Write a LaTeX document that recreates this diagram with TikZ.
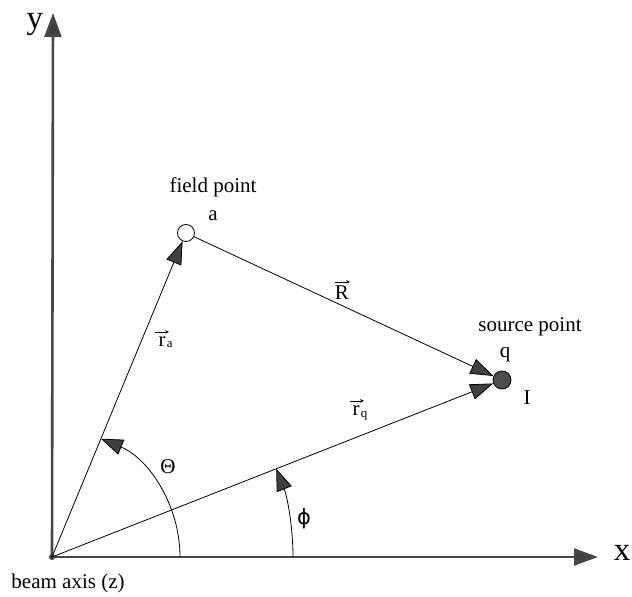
\documentclass[tikz,border=0pt]{standalone}
\usepackage{fontspec}
\setmainfont{Liberation Serif}
\newfontfamily\symfont{DejaVu Sans}
\usetikzlibrary{arrows.meta}
\begin{document}
\begin{tikzpicture}[x=1pt,y=1pt,
  lbl/.style={font=\fontsize{21}{25}\selectfont, inner sep=0pt},
  sublbl/.style={font=\fontsize{13}{15}\selectfont, inner sep=0pt},
  axlbl/.style={font=\fontsize{33}{38}\selectfont, inner sep=0pt},
  head/.style={-{Triangle[length=23pt,width=16pt,fill=black!75]}},
  vecline/.style={head, line width=0.8pt, black},
  axisline/.style={line width=2.6pt, black!72, -{Triangle[length=24pt,width=17pt,fill=black!75]}},
  thinarc/.style={line width=0.8pt, black, -{Triangle[length=22pt,width=16pt,fill=black!75]}},
  overarrow/.style={line width=0.6pt, -{Stealth[length=4pt,width=3.5pt]}}
]
\useasboundingbox (0,0) rectangle (632,597);
\coordinate (O) at (52,40);
\coordinate (ytip) at (53,584);
\coordinate (xtip) at (598,40);
\node[circle, draw, line width=0.8pt, fill=white, minimum size=17pt, inner sep=0pt] (a) at (186,364) {};
\node[circle, draw, line width=0.8pt, fill=black!70, minimum size=18pt, inner sep=0pt] (q) at (502,217) {};

% axes
\draw[axisline] (O) -- (ytip);
\draw[axisline] (O) -- (xtip);
\fill[black!75] (O) circle (3pt);

% vectors
\draw[vecline] (O) -- (a);
\draw[vecline] (a) -- (q);
\draw[vecline] (O) -- (q);

% angle arcs
\draw[thinarc] (180,40) arc[start angle=0, end angle=67.5, radius=128];
\draw[thinarc] (293,40) arc[start angle=0, end angle=21.5, radius=241];

% labels
\node[axlbl] (ylab) at (35,573) {y};
\node[axlbl] (xlab) at (622,44) {x};
\node[lbl] (fp) at (213,410) {field point};
\node[lbl] (alab) at (213,381) {a};
\node[lbl] (sp) at (530,270) {source point};
\node[lbl] (qlab) at (505,242) {q};
\node[lbl] (Ilab) at (527,199) {I};
\node[lbl] (thlab) at (168,130) {Θ};
\node[lbl] (philab) at (304,78) {\symfont ϕ};
\node[lbl] (beam) at (68,14) {beam axis (z)};

% vector labels
\node[lbl] (Rlab) at (342,304) {R};
\draw[overarrow] ([xshift=-7pt,yshift=4pt]Rlab.north) -- ([xshift=8pt,yshift=4pt]Rlab.north);
\node[lbl] (ralab) at (162,255) {r};
\node[sublbl, anchor=west] (rasub) at ([xshift=1pt,yshift=-3pt]ralab.east) {a};
\draw[overarrow] ([xshift=-7pt,yshift=5pt]ralab.north) -- ([xshift=7pt,yshift=5pt]ralab.north);
\node[lbl] (rqlab) at (356,186) {r};
\node[sublbl, anchor=west] (rqsub) at ([xshift=1pt,yshift=-5pt]rqlab.east) {q};
\draw[overarrow] ([xshift=-6pt,yshift=5pt]rqlab.north) -- ([xshift=8pt,yshift=5pt]rqlab.north);
\end{tikzpicture}
\end{document}
